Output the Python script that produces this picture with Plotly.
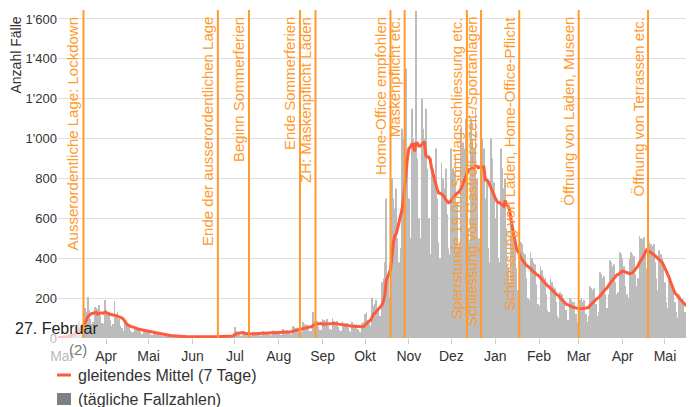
import pandas as pd
import plotly.graph_objects as go

# ---- daily case counts, by month ----
feb_2020 = [2, 3, 1]
mar_2020 = [4, 4, 9, 12, 14, 20, 15, 10, 25, 55, 60, 72, 85, 60, 45, 70, 150, 130, 205, 140, 95, 70,
            80, 155, 150, 145, 165, 110, 75, 70, 190]
apr_2020 = [140, 125, 130, 90, 60, 70, 185, 120, 130, 95, 60, 50, 35, 85, 75, 70, 60, 40, 30,
            30, 60, 55, 50, 45, 30, 20, 20, 45, 40, 35]
may_2020 = [32, 22, 15, 15, 30, 28, 25, 22, 15, 10, 8, 18, 15, 14, 12, 8, 6, 5, 12, 10, 9, 10, 6, 4,
            4, 10, 8, 7, 8, 5, 3]
jun_2020 = [3, 8, 7, 6, 7, 4, 3, 3, 9, 7, 6, 8, 5, 3, 3, 9, 8, 7, 9, 5, 4, 5, 14, 12, 10, 12, 7, 5, 8, 25]
jul_2020 = [55, 35, 30, 18, 12, 10, 30, 28, 25, 24, 15, 10, 10, 32, 28, 25, 26, 16, 12,
            12, 35, 30, 28, 30, 18, 14, 14, 38, 34, 30, 32]
aug_2020 = [20, 15, 15, 45, 40, 35, 38, 25, 18, 20, 60, 55, 50, 52, 32, 24, 30, 80, 70, 65, 68, 45, 32,
            35, 130, 85, 80, 85, 55, 40, 40]
sep_2020 = [95, 90, 85, 95, 60, 45, 40, 100, 85, 80, 85, 55, 40, 35, 85, 75, 70, 75, 50, 35,
            30, 80, 70, 65, 70, 45, 32, 30, 75, 80]
oct_2020 = [120, 130, 90, 70, 60, 200, 160, 170, 190, 140, 110, 110, 280, 300, 380, 700, 300, 200,
            250, 800, 700, 650, 750, 500, 380, 450, 1050, 1000, 1200, 1350, 900]
nov_2020 = [700, 500, 1150, 1000, 950, 1640, 900, 600, 500, 1200, 1050, 1000, 1150, 850, 600,
            420, 900, 850, 800, 950, 700, 480, 400, 880, 800, 750, 850, 620, 450, 420]
dec_2020 = [950, 850, 820, 920, 680, 460, 480, 1050, 980, 950, 1100, 800, 550, 480, 1100, 1000, 950,
            1150, 800, 500, 500, 1100, 1000, 950, 700, 800, 450, 380, 1000, 900, 780]
jan_2021 = [600, 700, 400, 380, 950, 850, 750, 800, 550, 350, 280, 620, 560, 500, 480, 350, 240,
            220, 480, 470, 430, 420, 300, 200, 190, 430, 400, 380, 370, 270, 170]
feb_2021 = [160, 360, 340, 310, 300, 220, 140, 130, 300, 280, 260, 250, 180, 110, 100, 230, 220, 200,
            190, 140, 90, 90, 200, 190, 180, 180, 120, 80]
mar_2021 = [85, 190, 200, 180, 190, 120, 80, 110, 260, 250, 240, 250, 170, 110, 130, 330, 320, 300,
            310, 220, 150, 220, 390, 380, 360, 370, 280, 220, 230, 430, 420]
apr_2021 = [400, 360, 260, 220, 200, 400, 430, 420, 410, 320, 260, 300, 510, 500, 495, 505, 430, 350,
            280, 480, 470, 460, 470, 380, 300, 240, 440, 420, 400, 380]
may_2021 = [280, 180, 150, 300, 270, 250, 250, 180, 130, 100, 220, 210, 195, 190, 130, 95, 95, 215, 200, 190]

start_date = "2020-02-27"

# ---- events ----
event_dates = ["2020-03-16", "2020-06-19", "2020-07-11", "2020-08-16", "2020-08-27", "2020-10-19",
               "2020-10-29", "2020-12-12", "2020-12-22", "2021-01-18", "2021-03-01", "2021-04-19"]
event_labels = ["Ausserordentliche Lage: Lockdown", "Ende der ausserordentlichen Lage",
                "Beginn Sommerferien", "Ende Sommerferien", "ZH: Maskenpflicht Läden",
                "Home-Office empfohlen", "Maskenpflicht etc.",
                "Sperrstunde 19.00, Sonntagsschliessung etc.",
                "Schliessung von Gastro/Freizeit-/Sportanlagen",
                "Schliessung von Läden, Home-Office-Pflicht",
                "Öffnung von Läden, Museen", "Öffnung von Terrassen etc."]

# ---- axis ticks ----
month_ticks = ["2020-03-01", "2020-04-01", "2020-05-01", "2020-06-01", "2020-07-01", "2020-08-01",
               "2020-09-01", "2020-10-01", "2020-11-01", "2020-12-01", "2021-01-01", "2021-02-01",
               "2021-03-01", "2021-04-01", "2021-05-01"]
month_labels = ["Mar", "Apr", "Mai", "Jun", "Jul", "Aug", "Sep", "Okt", "Nov", "Dez",
                "Jan", "Feb", "Mar", "Apr", "Mai"]

cases = (feb_2020 + mar_2020 + apr_2020 + may_2020 + jun_2020 + jul_2020 + aug_2020 + sep_2020 +
         oct_2020 + nov_2020 + dec_2020 + jan_2021 + feb_2021 + mar_2021 + apr_2021 + may_2021)
dates = pd.date_range(start_date, periods=len(cases), freq="D")
rolling = pd.Series(cases).rolling(7, min_periods=1).mean()

ORANGE = "#FF9A2E"
RED = "#FF5A3C"
FONT = "Liberation Sans, Arial, sans-serif"

# page is 694x407; the page body adds an 8px margin, so the figure is 8px smaller
OFF = 8
W, H = 694 - OFF, 407 - OFF
# plot area in page pixels: x 58..694, y 10..338
L, R, T = 58 - OFF, 0, 10 - OFF
B = H - (338 - OFF)
pw, ph = W - L - R, H - T - B


def px(xp):  # page pixel -> paper x
    return (xp - 58) / pw


def py(yp):  # page pixel -> paper y
    return (338 - yp) / ph


fig = go.Figure()
fig.add_trace(go.Bar(x=dates, y=cases, marker_color="#bcbcbc", marker_line_width=0,
                     name="(tägliche Fallzahlen)", showlegend=False))
fig.add_trace(go.Scatter(x=dates, y=rolling, mode="lines", line=dict(color=RED, width=3),
                         name="gleitendes Mittel (7 Tage)", showlegend=False))

shapes = []
annotations = []
for d, lab in zip(event_dates, event_labels):
    shapes.append(dict(type="line", xref="x", yref="paper", x0=d, x1=d, y0=0, y1=1,
                       line=dict(color=ORANGE, width=2), layer="above"))
    annotations.append(dict(x=d, xref="x", y=py(15), yref="paper", text=lab, textangle=-90,
                            xanchor="right", yanchor="top", showarrow=False,
                            font=dict(size=15, color=ORANGE, family=FONT)))

# hover-like overlay box
shapes.append(dict(type="rect", xref="paper", yref="paper", x0=px(8), x1=px(82), y0=py(362), y1=py(310),
                   fillcolor="rgba(255,255,255,0.65)", line=dict(width=0), layer="above"))
annotations.append(dict(x=px(56.5), y=py(328), xref="paper", yref="paper", text="27. Februar",
                        showarrow=False, xanchor="center", yanchor="middle",
                        font=dict(size=16, color="#222", family=FONT)))
annotations.append(dict(x=px(77.5), y=py(349), xref="paper", yref="paper", text="(2)",
                        showarrow=False, xanchor="center", yanchor="middle",
                        font=dict(size=15, color="#777", family=FONT)))

# y title
annotations.append(dict(x=px(15), y=py(15), xref="paper", yref="paper", text="Anzahl Fälle",
                        textangle=-90, showarrow=False, xanchor="center", yanchor="top",
                        font=dict(size=14, color="#333", family=FONT)))

# custom legend
shapes.append(dict(type="line", xref="paper", yref="paper", x0=px(57), x1=px(71), y0=py(375), y1=py(375),
                   line=dict(color=RED, width=3)))
shapes.append(dict(type="rect", xref="paper", yref="paper", x0=px(57), x1=px(71), y0=py(405), y1=py(393),
                   fillcolor="#808080", line=dict(width=0)))
annotations.append(dict(x=px(76), y=py(375), xref="paper", yref="paper", text="gleitendes Mittel (7 Tage)",
                        showarrow=False, xanchor="left", yanchor="middle",
                        font=dict(size=16, color="#333", family=FONT)))
annotations.append(dict(x=px(76), y=py(399), xref="paper", yref="paper", text="(tägliche Fallzahlen)",
                        showarrow=False, xanchor="left", yanchor="middle",
                        font=dict(size=16, color="#333", family=FONT)))

fig.update_layout(
    width=W, height=H, autosize=False,
    margin=dict(l=L, r=R, t=T, b=B, pad=0),
    plot_bgcolor="white", paper_bgcolor="white",
    separators=".'",
    bargap=0.45,
    showlegend=False,
    font=dict(family=FONT, color="#333"),
    shapes=shapes, annotations=annotations,
    xaxis=dict(type="date", range=["2020-02-27 00:00", "2021-05-21 12:00"],
               tickmode="array", tickvals=month_ticks, ticktext=month_labels,
               ticks="outside", ticklen=5, tickcolor="#cccccc", showgrid=False,
               zeroline=False, showline=False, tickfont=dict(size=14, color="#333")),
    yaxis=dict(range=[0, 1645], dtick=200, tickformat=",d", gridcolor="#e0e0e0",
               zeroline=False, showline=False, ticks="", tickfont=dict(size=13, color="#333")),
)

fig.write_html("out.html")
